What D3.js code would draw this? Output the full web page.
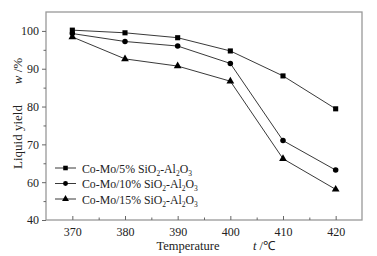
<!DOCTYPE html>
<html>
<head>
<meta charset="utf-8">
<script src="https://cdn.jsdelivr.net/npm/d3@7"></script>
<style>
  body { margin: 0; background: #fff; }
  text { font-family: "Liberation Serif", "Times New Roman", serif; fill: #222; }
</style>
</head>
<body>
<div id="chart"></div>
<script>
const temps = [370, 380, 390, 400, 410, 420];
const yield5 = [100.2, 99.5, 98.2, 94.7, 88.1, 79.4];
const yield10 = [99.3, 97.2, 96.0, 91.4, 71.0, 63.2];
const yield15 = [98.4, 92.6, 90.7, 86.7, 66.2, 58.1];
// the bottom tick is labelled 40 in the original figure (axis break)
const yTicks = [50, 60, 70, 80, 90, 100];
const yTickLabels = ["40", "60", "70", "80", "90", "100"];
const xTicks = [370, 380, 390, 400, 410, 420];

const series = [
  { pct: "5%", values: yield5, symbol: d3.symbolSquare, size: 26 },
  { pct: "10%", values: yield10, symbol: d3.symbolCircle, size: 24 },
  { pct: "15%", values: yield15, symbol: d3.symbolTriangle, size: 26 }
];

const W = 377, H = 256;
const margin = { top: 12, right: 15, bottom: 36, left: 46 };
const width = W - margin.left - margin.right;
const height = H - margin.top - margin.bottom;

const svg = d3.select("#chart").append("svg")
  .attr("width", W)
  .attr("height", H);

const g = svg.append("g")
  .attr("transform", `translate(${margin.left},${margin.top})`);

const x = d3.scaleLinear().domain([365, 425]).range([0, width]);
const y = d3.scaleLinear().domain([50, 105]).range([height, 0]);

// frame
g.append("rect")
  .attr("x", 0).attr("y", 0)
  .attr("width", width).attr("height", height)
  .attr("fill", "none")
  .attr("stroke", "#999")
  .attr("stroke-width", 1.3);

const tickFont = a => a.selectAll(".tick text")
  .attr("font-family", null)
  .style("font-size", "12px")
  .style("fill", "#222");

// x axis, ticks point inward
g.append("g")
  .attr("transform", `translate(0,${height})`)
  .call(d3.axisBottom(x).tickValues(xTicks).tickSize(-4).tickPadding(7).tickFormat(d3.format("d")))
  .attr("font-family", null)
  .call(a => a.select(".domain").remove())
  .call(a => a.selectAll(".tick line").attr("stroke", "#666"))
  .call(tickFont);

g.append("g")
  .attr("transform", `translate(0,${height})`)
  .call(d3.axisBottom(x).tickValues([375, 385, 395, 405, 415]).tickSize(-2.5).tickFormat(""))
  .call(a => a.select(".domain").remove())
  .call(a => a.selectAll(".tick line").attr("stroke", "#666"));

// y axis, ticks point outward
g.append("g")
  .call(d3.axisLeft(y).tickValues(yTicks).tickSize(4).tickPadding(3)
    .tickFormat((d, i) => yTickLabels[i]))
  .attr("font-family", null)
  .call(a => a.select(".domain").remove())
  .call(a => a.selectAll(".tick line").attr("stroke", "#666"))
  .call(tickFont);

g.append("g")
  .call(d3.axisLeft(y).tickValues([55, 65, 75, 85, 95]).tickSize(2.5).tickFormat(""))
  .call(a => a.select(".domain").remove())
  .call(a => a.selectAll(".tick line").attr("stroke", "#666"));

// lines and markers
const line = d3.line()
  .x((d, i) => x(temps[i]))
  .y(d => y(d));

series.forEach(s => {
  g.append("path")
    .datum(s.values)
    .attr("fill", "none")
    .attr("stroke", "#222")
    .attr("stroke-width", 0.9)
    .attr("d", line);

  g.selectAll(null)
    .data(s.values)
    .enter()
    .append("path")
    .attr("transform", (d, i) => `translate(${x(temps[i])},${y(d)})`)
    .attr("d", d3.symbol().type(s.symbol).size(s.size))
    .attr("fill", "#000");
});

// legend
const legend = g.append("g")
  .attr("transform", "translate(9,156)");

series.forEach((s, i) => {
  const row = legend.append("g").attr("transform", `translate(0,${i * 15.5})`);
  row.append("line")
    .attr("x1", 0).attr("x2", 21)
    .attr("stroke", "#222").attr("stroke-width", 0.9);
  row.append("path")
    .attr("transform", "translate(10.5,0)")
    .attr("d", d3.symbol().type(s.symbol).size(s.size * 0.8))
    .attr("fill", "#000");
  const t = row.append("text")
    .attr("x", 27).attr("y", 4.5)
    .style("font-size", "11.8px");
  t.append("tspan").text(`Co-Mo/${s.pct} SiO`);
  t.append("tspan").attr("dy", 3).style("font-size", "7.5px").text("2");
  t.append("tspan").attr("dy", -3).text("-Al");
  t.append("tspan").attr("dy", 3).style("font-size", "7.5px").text("2");
  t.append("tspan").attr("dy", -3).text("O");
  t.append("tspan").attr("dy", 3).style("font-size", "7.5px").text("3");
});

// axis titles
svg.append("text")
  .attr("transform", "translate(17,137) rotate(-90)")
  .attr("text-anchor", "middle")
  .attr("dy", "0.35em")
  .style("font-size", "13px")
  .text("Liquid yield");

const yUnit = svg.append("text")
  .attr("transform", "translate(17,71) rotate(-90)")
  .attr("text-anchor", "middle")
  .attr("dy", "0.35em")
  .style("font-size", "13px");
yUnit.append("tspan").style("font-style", "italic").text("w");
yUnit.append("tspan").text(" /%");

svg.append("text")
  .attr("x", 188)
  .attr("y", 250)
  .attr("text-anchor", "middle")
  .style("font-size", "12.5px")
  .text("Temperature");

const xUnit = svg.append("text")
  .attr("x", 264)
  .attr("y", 250)
  .attr("text-anchor", "middle")
  .style("font-size", "12.5px");
xUnit.append("tspan").style("font-style", "italic").text("t");
xUnit.append("tspan").text(" /℃");
</script>
</body>
</html>
